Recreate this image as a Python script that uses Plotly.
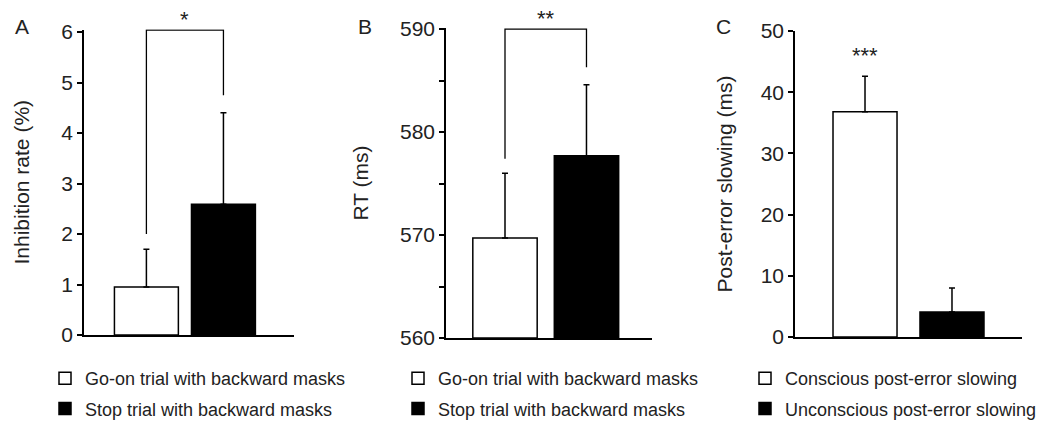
import plotly.graph_objects as go

# ---- data ----
conds_a = ["Go-on trial with backward masks", "Stop trial with backward masks"]
inhib_rate = [0.95, 2.59]
inhib_err = [0.75, 1.81]
bracket_a = [2.0, 6.04, 6.04, 4.75]
sig_a = "*"

conds_b = ["Go-on trial with backward masks", "Stop trial with backward masks"]
rt_ms = [569.7, 577.7]
rt_err = [6.3, 6.9]
bracket_b = [577.4, 590.0, 590.0, 586.3]
sig_b = "**"

conds_c = ["Conscious post-error slowing", "Unconscious post-error slowing"]
pes_ms = [36.8, 4.1]
pes_err = [5.8, 3.9]
sig_c = "***"
sig_c_y = 46.0

panel_labels = ["A", "B", "C"]
y_titles = ["Inhibition rate (%)", "RT (ms)", "Post-error slowing (ms)"]

FONT = "Liberation Sans, Arial, sans-serif"
TXT = "#222222"
fills = ["white", "black"]

fig = go.Figure()

panels = [
    dict(conds=conds_a, vals=inhib_rate, errs=inhib_err, xa="x", ya="y", leg="legend", base=0, width=0.83),
    dict(conds=conds_b, vals=rt_ms, errs=rt_err, xa="x2", ya="y2", leg="legend2", base=560, width=0.79),
    dict(conds=conds_c, vals=pes_ms, errs=pes_err, xa="x3", ya="y3", leg="legend3", base=0, width=0.736),
]

for p in panels:
    for i, (c, v, e) in enumerate(zip(p["conds"], p["vals"], p["errs"])):
        fig.add_trace(go.Bar(
            x=[i], y=[v - p["base"]], base=p["base"], width=p["width"],
            name=c, legend=p["leg"], legendgroup=p["leg"] + str(i),
            marker=dict(color=fills[i], line=dict(color="black", width=1.5)),
            error_y=dict(type="data", array=[e], arrayminus=[0], symmetric=False,
                         color="black", thickness=1.5, width=3),
            xaxis=p["xa"], yaxis=p["ya"], showlegend=True, hoverinfo="skip",
        ))

# significance brackets
for xa, ya, br in [("x", "y", bracket_a), ("x2", "y2", bracket_b)]:
    fig.add_trace(go.Scatter(x=[0, 0, 1, 1], y=br, mode="lines",
                             line=dict(color="black", width=1.3),
                             xaxis=xa, yaxis=ya, showlegend=False, hoverinfo="skip",
                             cliponaxis=False))

annots = [
    dict(x=0.5, y=bracket_a[1], xref="x", yref="y", text=sig_a, yanchor="bottom", yshift=-4),
    dict(x=0.5, y=bracket_b[1], xref="x2", yref="y2", text=sig_b, yanchor="bottom", yshift=-4),
    dict(x=0, y=sig_c_y, xref="x3", yref="y3", text=sig_c, yanchor="middle"),
]
for a in annots:
    a.update(showarrow=False, font=dict(family=FONT, size=22, color=TXT))
# panel letters
for lab, px in zip(panel_labels, [22, 365, 723]):
    annots.append(dict(x=px / 1042, y=1 - 27 / 423, xref="paper", yref="paper", text=lab,
                       showarrow=False, xanchor="center", yanchor="middle",
                       font=dict(family=FONT, size=21, color=TXT)))

axis_common = dict(showline=True, linecolor="black", linewidth=1.5, showgrid=False,
                   zeroline=False, ticks="outside", ticklen=5, tickwidth=1.5, tickcolor="black",
                   tickfont=dict(family=FONT, size=21, color=TXT))
xaxis_common = dict(showline=True, linecolor="black", linewidth=1.5, showgrid=False,
                    zeroline=False, showticklabels=False, ticks="", fixedrange=True)

W, H = 1042, 423
title_font = dict(family=FONT, size=21, color=TXT)
fig.update_layout(
    width=W, height=H, margin=dict(l=0, r=0, t=0, b=0, autoexpand=False),
    paper_bgcolor="white", plot_bgcolor="white",
    barmode="overlay", showlegend=True,
    font=dict(family=FONT, color=TXT),
    xaxis=dict(domain=[84 / W, 294 / W], range=[-0.81, 1.916], anchor="y", **xaxis_common),
    xaxis2=dict(domain=[446 / W, 652 / W], range=[-0.724, 1.804], anchor="y2", **xaxis_common),
    xaxis3=dict(domain=[795 / W, 1022 / W], range=[-0.805, 1.805], anchor="y3", **xaxis_common),
    yaxis=dict(domain=[1 - 335 / H, 1 - 29.5 / H], range=[0, 6.05], tickvals=[0, 1, 2, 3, 4, 5, 6],
               anchor="x", title=dict(text=y_titles[0], font=title_font, standoff=26),
               **axis_common),
    yaxis2=dict(domain=[1 - 338 / H, 1 - 28 / H], range=[560, 590.1],
                tickvals=[560, 565, 570, 575, 580, 585, 590],
                ticktext=["560", "", "570", "", "580", "", "590"],
                anchor="x2", title=dict(text=y_titles[1], font=title_font, standoff=26),
                **axis_common),
    yaxis3=dict(domain=[1 - 337 / H, 1 - 31 / H], range=[0, 50], tickvals=[0, 10, 20, 30, 40, 50],
                anchor="x3", title=dict(text=y_titles[2], font=title_font, standoff=22),
                **axis_common),
    annotations=annots,
)

leg_common = dict(yanchor="bottom", y=-4 / H, bgcolor="rgba(0,0,0,0)", borderwidth=0,
                  font=dict(family=FONT, size=18, color=TXT), traceorder="grouped",
                  tracegroupgap=4, itemwidth=30, itemclick=False, itemdoubleclick=False)
fig.update_layout(
    legend=dict(x=45 / W, xanchor="left", **leg_common),
    legend2=dict(x=398 / W, xanchor="left", **leg_common),
    legend3=dict(x=1.0, xanchor="right", **leg_common),
)

fig.write_html("out.html")
